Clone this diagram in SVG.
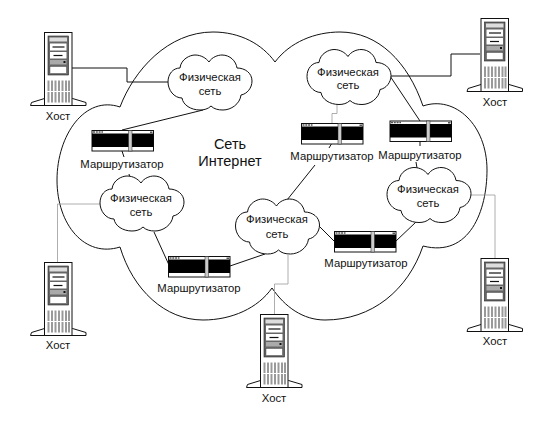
<svg xmlns="http://www.w3.org/2000/svg" width="550" height="421" viewBox="0 0 550 421">
<style>
text{font-family:"Liberation Sans",Arial,sans-serif;font-size:11.300px;fill:#111;text-anchor:middle}
.big{font-size:14.500px}
.ln{fill:none;stroke:#111;stroke-width:1}
.th{fill:none;stroke:#999;stroke-width:.8}
.cl{fill:#fff;stroke:#111;stroke-width:1}
</style>
<defs>
<g id="srv">
<path d="M0 66 L-13 70 L-14 73 L41.500 73 L41.500 70 L28 66Z" fill="#fff" stroke="#111" stroke-width="1"/>
<rect x="0" y="0" width="27.500" height="73" fill="#fff" stroke="#111" stroke-width="1"/>
<rect x="3.500" y="3.500" width="20.500" height="39" fill="#666" stroke="#222" stroke-width=".6"/>
<rect x="5" y="5" width="17.500" height="4" fill="#ddd"/>
<rect x="5.500" y="11" width="16.500" height="7" fill="#fff"/>
<path d="M8 14.500H20" stroke="#111" stroke-width="1.200"/>
<rect x="5.500" y="19.500" width="16.500" height="6.500" fill="#fff"/>
<path d="M9 23H18" stroke="#111" stroke-width="1.200"/>
<rect x="5.500" y="27.500" width="16.500" height="4.500" fill="#aaa"/>
<rect x="19" y="28.500" width="2" height="2" fill="#111"/>
<rect x="5.500" y="34" width="16.500" height="7" fill="#fff" stroke="#333" stroke-width=".4"/>
<path d="M4 48V70M7.500 48V70M11 48V70M14.500 48V70M18 48V70M21.500 48V70M24.500 48V70" stroke="#999" stroke-width="2" fill="none"/>
<path d="M2 59H26" stroke="#fff" stroke-width="1"/>
</g>
<g id="rtr">
<rect x="0" y="0" width="61.500" height="20.500" fill="#fff" stroke="#111" stroke-width="1"/>
<rect x="0" y="3" width="61.500" height="13.500" fill="#000"/>
<rect x="36.500" y="0" width="3.500" height="20.500" fill="#ccc" stroke="#222" stroke-width=".5"/>
<path d="M1 1.500H11" stroke="#555" stroke-width="1.500" stroke-dasharray="2 .8"/>
<rect x="58" y="1" width="2.500" height="1.500" fill="#555"/>
</g>
<path id="cld" class="cl" d="M12 13C13 4 22 0 27 0C33 0 38 3 41 7C44 2 50 0 54 0C62 0 68 6 69 13C77 13 84 18 84 26C84 33 79 39 73 40C72 49 63 55 55 55C50 55 46 54 43 51C40 54 36 55 32 55C23 55 15 50 14 43C6 43 0 35 0 27C0 19 5 13 12 13Z"/>
</defs>
<path id="internet" class="ln" d="M120 107C134 70 168 32 213 32C240 32 262 44 275 62C290 42 315 32 340 32C378 32 408 62 423 106C455 95 487 125 487 170C487 210 470 258 423 246C408 290 372 320 325 320C303 320 285 307 272 288C258 308 232 320 203 320C165 320 133 290 120 247C85 258 57 225 57 180C57 135 85 95 120 107Z" fill="#fff"/>
<g id="connectors">
<path class="ln" d="M72 68H127V82H169"/>
<path class="ln" d="M203 110L122 130"/>
<path class="ln" d="M122 151L124 157M129 174L130 178"/>
<path class="ln" d="M154 232L169 265"/>
<path class="ln" d="M230 266L265 254"/>
<path class="ln" d="M315 165L283 205"/>
<path class="ln" d="M332 143L329 148"/>
<path class="th" d="M337 105V113.500H332V123"/>
<path class="ln" d="M390 76H451V54H480"/>
<path class="ln" d="M390 76L420 121"/>
<path class="ln" d="M420 141V146M416 162L417 168"/>
<path class="th" d="M470 195H495V258"/>
<path class="ln" d="M416 222L396 241"/>
<path class="ln" d="M334 241L318 225"/>
<path class="th" d="M100 204H57.500V262"/>
<path class="th" d="M288 255V284H274.500V314"/>
</g>
<text class="big" x="230" y="149">Сеть</text>
<text class="big" x="230" y="166">Интернет</text>
<g id="net1"><use href="#cld" x="168" y="55"/><text x="210" y="81">Физическая</text><text x="210" y="95">сеть</text></g>
<g id="net2"><use href="#cld" x="307" y="49.500"/><text x="348" y="76">Физическая</text><text x="348" y="89">сеть</text></g>
<g id="net3"><use href="#cld" x="100" y="176"/><text x="141" y="202">Физическая</text><text x="141" y="216">сеть</text></g>
<g id="net4"><use href="#cld" x="387" y="167.500"/><text x="428" y="193">Физическая</text><text x="428" y="207">сеть</text></g>
<g id="net5"><use href="#cld" x="235.500" y="199"/><text x="277" y="223">Физическая</text><text x="277" y="238">сеть</text></g>
<g id="router1"><use href="#rtr" x="92" y="130.500"/><text x="122" y="168">Маршрутизатор</text></g>
<g id="router2"><use href="#rtr" x="301.500" y="123.500"/><text x="332" y="160">Маршрутизатор</text></g>
<g id="router3"><use href="#rtr" x="390" y="121"/><text x="420" y="159">Маршрутизатор</text></g>
<g id="router4"><use href="#rtr" x="168.500" y="256.500"/><text x="199" y="292">Маршрутизатор</text></g>
<g id="router5"><use href="#rtr" x="334.500" y="231.500"/><text x="366" y="267">Маршрутизатор</text></g>
<g id="host1"><use href="#srv" x="44.500" y="32.500"/><text x="58" y="120">Хост</text></g>
<g id="host2"><use href="#srv" x="481" y="18.500"/><text x="495" y="106">Хост</text></g>
<g id="host3"><use href="#srv" x="44.500" y="262.500"/><text x="58" y="349">Хост</text></g>
<g id="host4"><use href="#srv" x="260.500" y="314.500"/><text x="274" y="402">Хост</text></g>
<g id="host5"><use href="#srv" x="481" y="258.500"/><text x="495" y="345">Хост</text></g>
</svg>
